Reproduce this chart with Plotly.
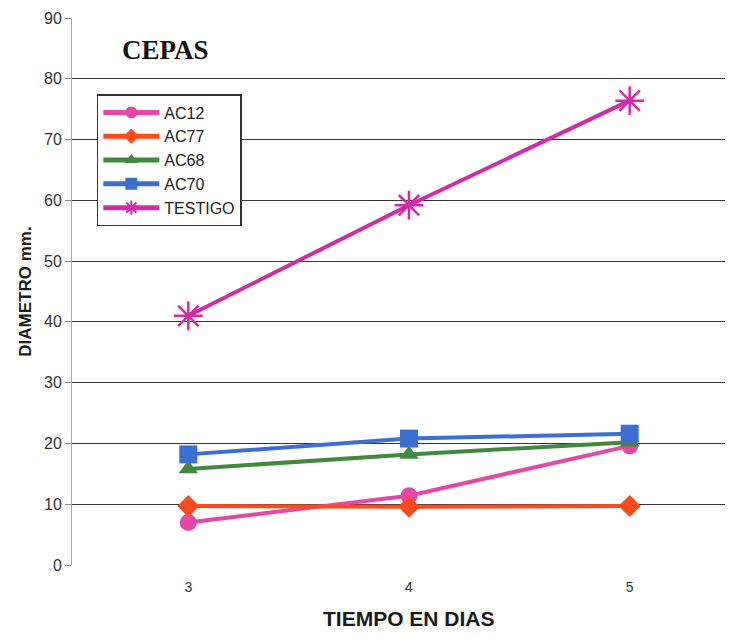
import plotly.graph_objects as go

dias = [3, 4, 5]
series_names = ["AC12", "AC77", "AC68", "AC70", "TESTIGO"]
ac12 = [7.0, 11.4, 19.6]
ac77 = [9.7, 9.6, 9.7]
ac68 = [15.8, 18.2, 20.2]
ac70 = [18.2, 20.8, 21.6]
testigo = [41.0, 59.2, 76.4]
y_ticks = [0, 10, 20, 30, 40, 50, 60, 70, 80, 90]

values = [ac12, ac77, ac68, ac70, testigo]
colors = ["#E347A8", "#FF4A1C", "#3F8A3C", "#3C6FD2", "#D42AA8"]
symbols = ["circle", "diamond", "triangle-up", "square", "asterisk-open"]
sizes = [17, 17, 17, 18, 24]

fig = go.Figure()
for name, vals, c, s, sz in zip(series_names, values, colors, symbols, sizes):
    marker = dict(symbol=s, size=sz, color=c)
    if s == "asterisk-open":
        marker["line"] = dict(color=c, width=2.5)
    fig.add_trace(go.Scatter(
        x=dias, y=vals, name=name, mode="lines+markers",
        line=dict(color=c, width=4), marker=marker))

fig.update_layout(
    width=717, height=623,
    paper_bgcolor="white", plot_bgcolor="white",
    margin=dict(l=64, r=0, t=10, b=66),
    font=dict(family="Arial, Liberation Sans, sans-serif", color="#222"),
    showlegend=True,
    legend=dict(x=0.038, y=0.861, xanchor="left", yanchor="top",
                bgcolor="white", bordercolor="#333", borderwidth=1.5,
                font=dict(size=16, color="#222"), itemwidth=56,
                itemsizing="constant", tracegroupgap=0),
    annotations=[
        dict(text="<b>CEPAS</b>", x=0.073, y=0.942, xref="paper", yref="paper",
             xanchor="left", yanchor="middle", showarrow=False,
             font=dict(family="Liberation Serif, Times New Roman, serif", size=27, color="#111")),
        dict(text="<b>TIEMPO EN DIAS</b>", x=0.516, y=-0.098, xref="paper", yref="paper",
             xanchor="center", yanchor="middle", showarrow=False,
             font=dict(size=21, color="#1a1a1a")),
    ],
)
fig.update_xaxes(range=[2.473, 5.432], tickvals=dias, ticktext=[str(d) for d in dias],
                 showgrid=False, zeroline=False, showline=False, automargin=False,
                 tickfont=dict(size=14, color="#333"), ticks="", ticklabelstandoff=12)
fig.update_yaxes(range=[0, 90], tickvals=y_ticks, showgrid=True, gridcolor="#333", gridwidth=1,
                 zeroline=False, showline=True, linecolor="#aaa", linewidth=1, automargin=False,
                 ticks="outside", ticklen=6, tickcolor="#888",
                 tickfont=dict(size=16, color="#333"),
                 title=dict(text="<b>DIAMETRO mm.</b>", font=dict(size=17, color="#1a1a1a"), standoff=8))

fig.write_html("out.html")
